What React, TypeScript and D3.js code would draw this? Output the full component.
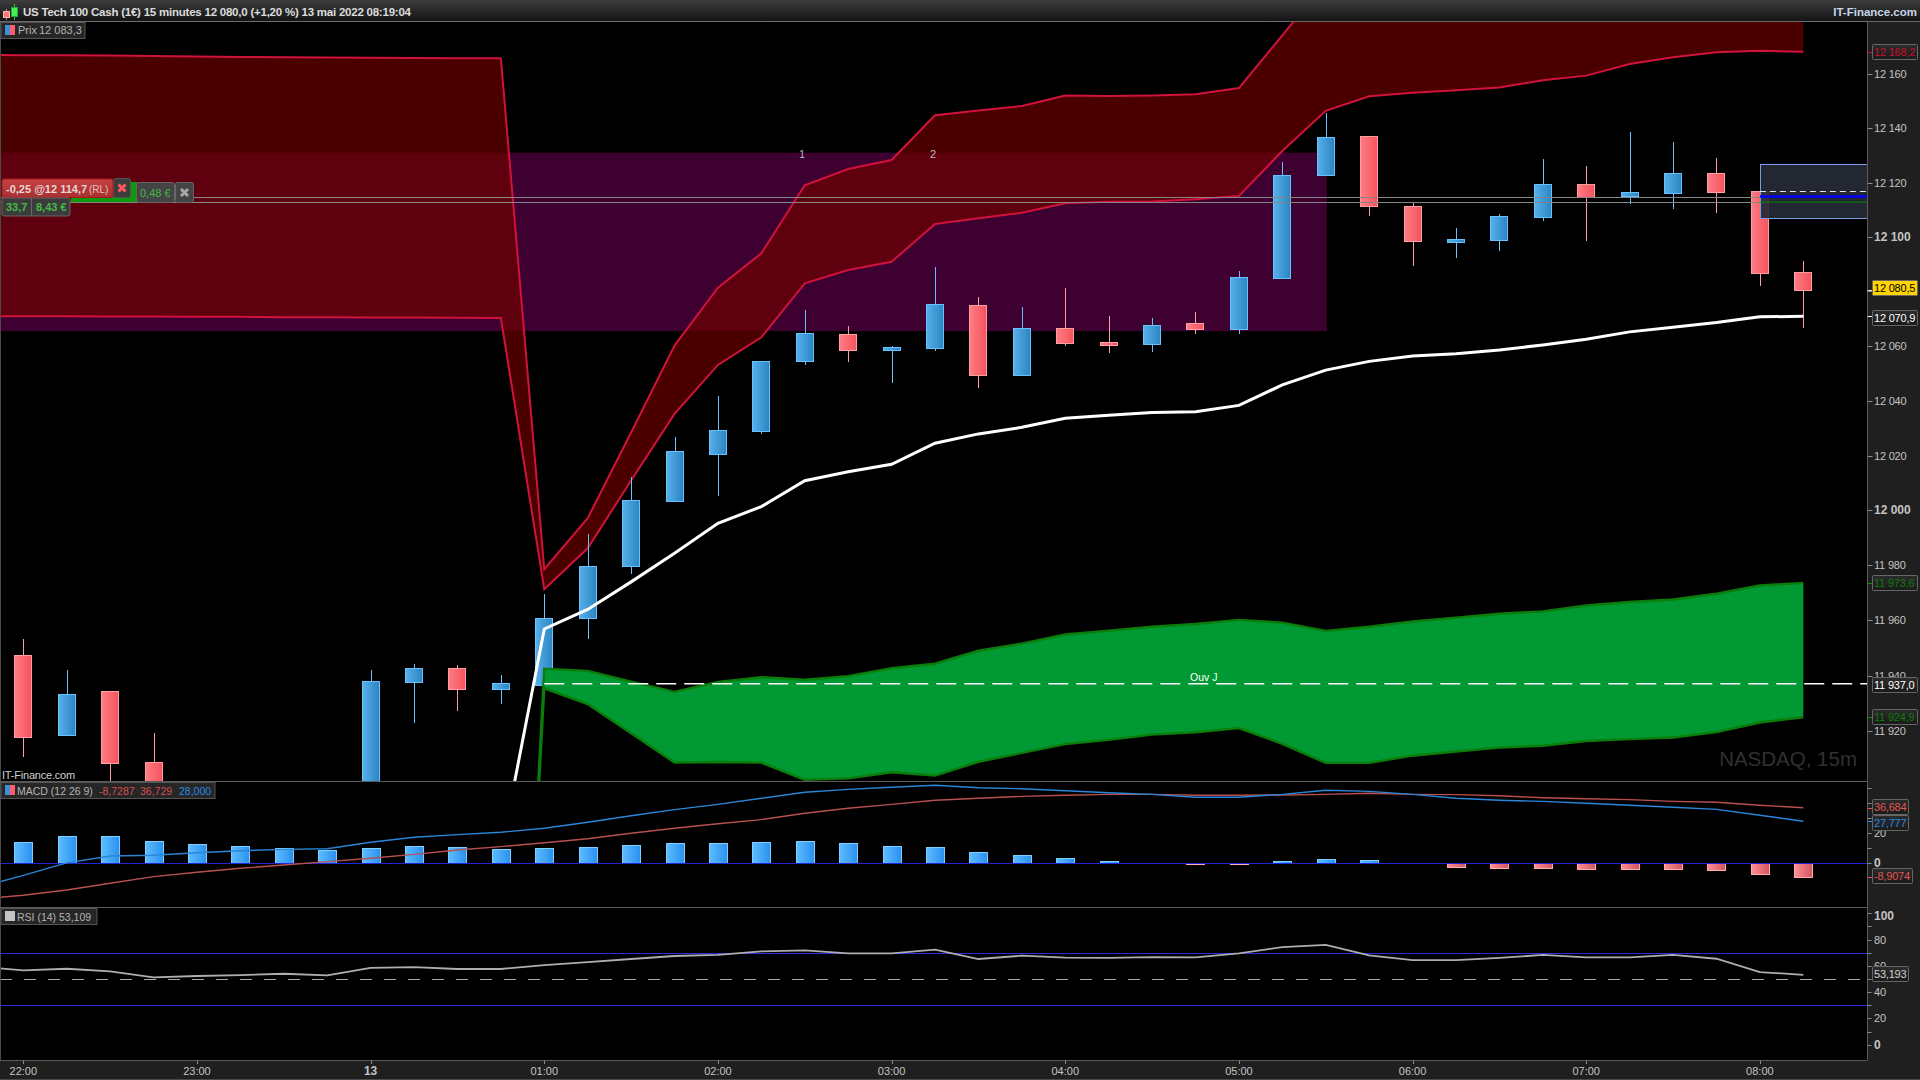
import * as d3 from 'd3';

const W = 1920;
const H = 1080;
const PLOT_RIGHT = 1867.5;
const FONT = '"Liberation Sans", Arial, sans-serif';

// index 0 = 22:00, one bar every 15 minutes. 4 to 7 sit below the visible range
const opens = [11947.5, 11918.3, 11934.3, 11908.6, null, null, null, null, 11892, 11937.5, 11942.7, 11935.3, 11936.7, 11960.8, 11979.6, 12003.6, 12020.7, 12029.1, 12054.7, 12064.4, 12058.7, 12059.4, 12075, 12049.6, 12066.5, 12061.4, 12060.6, 12068.3, 12066.4, 12085.1, 12122.6, 12137.1, 12111.3, 12098.2, 12099, 12107.5, 12119.4, 12115.2, 12116.3, 12123.5, 12116.9, 12087];
const highs = [11953.3, 11942.1, 11934.3, 11919.1, null, null, null, null, 11942.1, 11944.3, 11943.9, 11940.2, 11969.6, 11991.5, 12012, 12026.8, 12041.7, 12054.4, 12073.2, 12067.3, 12060, 12089, 12077.9, 12074.4, 12081.3, 12071, 12070.3, 12072.5, 12087.5, 12127.5, 12145.7, 12137.1, 12112.5, 12103.3, 12108.5, 12128.6, 12126.2, 12138.6, 12134.9, 12129, 12116.9, 12091.1];
const lows = [11910.7, 11918, 11898.6, 11892, null, null, null, null, 11890, 11923, 11927.3, 11929.7, 11936, 11953.4, 11976.7, 12002.9, 12005.3, 12028, 12053.1, 12054.3, 12046.6, 12058.3, 12044.8, 12049.1, 12060.1, 12057.6, 12058, 12064.5, 12064.5, 12084.7, 12122.4, 12107.8, 12089.5, 12092.4, 12094.7, 12106, 12098.6, 12112.3, 12110.4, 12108.9, 12082, 12066.7];
const closes = [11917.9, 11933.3, 11908.5, 11895, null, null, null, null, 11938, 11942.7, 11935.3, 11937.3, 11960.9, 11979.7, 12003.9, 12021.7, 12029.4, 12054.4, 12064.8, 12058.7, 12059.7, 12075.4, 12049.6, 12066.5, 12061.3, 12060.4, 12067.6, 12066.4, 12085.2, 12122.7, 12136.7, 12111.5, 12098.6, 12099.1, 12107.6, 12119.4, 12114.8, 12116.5, 12123.5, 12116.7, 12086.8, 12080.4];

// these four start one bar before 22:00, off the left edge
const redUpper = [12167.1, 12166.9, 12166.9, 12166.8, 12166.6, 12166.5, 12166.3, 12166.2, 12166.1, 12166, 12165.9, 12165.8, 12165.8, 11978.6, 11997.2, 12028.4, 12060.2, 12081.4, 12094, 12119, 12125, 12128.3, 12144.8, 12146.5, 12148.2, 12152.1, 12151.9, 12152.1, 12152.5, 12154.8, 12174.3, 12194, 12198, 12200, 12202, 12204, 12208, 12210, 12214, 12216, 12219, 12221, 12223];
const redLower = [12071, 12070.9, 12070.9, 12070.8, 12070.8, 12070.7, 12070.7, 12070.6, 12070.6, 12070.5, 12070.5, 12070.4, 12070.3, 11971.3, 11986.2, 12010.9, 12035.2, 12053.1, 12063.2, 12083, 12087.9, 12090.9, 12104.8, 12106.9, 12108.9, 12112.4, 12112.9, 12113, 12113.9, 12115.1, 12131.6, 12146.4, 12151.8, 12153.1, 12154, 12155, 12157.7, 12159.4, 12163.7, 12166.2, 12168, 12168.6, 12168.2];
const macdLine = [-15.8, -8, 0.3, 4.8, 5.3, 7, 8.3, 9.2, 9.6, 13.9, 17.2, 18.9, 20.5, 23.1, 27.1, 31.4, 35.4, 38.9, 42.9, 46.9, 48.8, 50.2, 51.5, 49.9, 49.2, 47.9, 46.6, 45.5, 43.6, 43.6, 45.5, 48.2, 47.5, 45.5, 42.9, 41.6, 40.9, 39.6, 38.3, 37, 35.6, 31.7, 27.8];
const macdSignal = [-23.5, -21.1, -17.6, -13.2, -8.8, -5.9, -3.3, -1.1, 1.1, 3.3, 5.9, 8.8, 11, 13.6, 16.2, 19.8, 23.1, 26.1, 28.8, 33, 36.3, 38.9, 41.6, 42.9, 44.2, 44.9, 45.5, 45.5, 44.9, 44.9, 45.1, 45.5, 46.2, 45.5, 45.3, 44.6, 43.3, 42.6, 42, 40.9, 40.3, 38.3, 36.7];
const rsiLine = [59.4, 56.5, 57.8, 55.8, 51.2, 52.3, 53, 54, 52.7, 58.4, 59.1, 57.6, 57.6, 60.6, 62.9, 65.2, 67.5, 68.3, 71, 71.7, 69.5, 69.5, 72.3, 65.2, 67.7, 66.2, 66, 66.7, 66.4, 69.5, 74.3, 75.9, 67.9, 64.4, 64.4, 66, 68.3, 66.4, 66.4, 68.3, 65.4, 55.3, 53.2];
const macdHist = [13.9, 17.8, 17.8, 14.5, 12.5, 11.2, 9.9, 8.6, 9.9, 11.2, 10.6, 9.2, 9.9, 10.6, 11.9, 13.2, 13.2, 13.9, 14.5, 13.2, 11.2, 10.6, 7.3, 5.3, 3.3, 1.3, 0, -0.7, -0.7, 1.3, 2.6, 2, 0, -2.2, -2.9, -2.9, -3.6, -3.6, -3.6, -4.2, -6.9, -8.9];

// these three start at bar 11 (00:45), everything before is far below the panel
const FROM_BAR = 11;
const whiteLine = [11876, 11956.9, 11964, 11974, 11984.4, 11995.3, 12001.4, 12010.8, 12014.1, 12016.8, 12024.5, 12027.9, 12030.3, 12033.6, 12034.7, 12035.7, 12036, 12038.3, 12045.8, 12051.2, 12054.4, 12056.4, 12057.2, 12058.6, 12060.4, 12062.5, 12065.2, 12066.9, 12068.6, 12070.7, 12070.9];
const greenUpper = [11650, 11942.5, 11941.7, 11937.8, 11934.1, 11937.7, 11939.4, 11938.5, 11939.8, 11942.7, 11944.3, 11949, 11951.6, 11954.9, 11956.3, 11957.7, 11958.7, 11960.2, 11959.2, 11956.2, 11957.7, 11959.6, 11961, 11962.4, 11963.3, 11965.4, 11966.7, 11967.6, 11969.7, 11972.7, 11973.6];
const greenLower = [11650, 11935.4, 11929.7, 11919.1, 11908.5, 11908.7, 11908.5, 11902.3, 11902.8, 11905, 11903.8, 11908.8, 11912, 11915.2, 11916.7, 11918.6, 11919.5, 11921, 11915.3, 11908.4, 11908.4, 11911, 11912.5, 11913.9, 11914.6, 11916.3, 11917, 11917.6, 11919.5, 11923, 11924.9];

const priceTicks = d3.range(11920, 12161, 20);
const hiddenPriceLabels = [12080]; // sits fully behind the yellow last price tag
const macdTicks = d3.range(0, 51, 10);
const macdLabels = [0, 20];
const rsiTicks = d3.range(0, 101, 10);
const rsiLabels = [0, 20, 40, 60, 80, 100];
const timeBars = [0, 4, 8, 12, 16, 20, 24, 28, 32, 36, 40];
const timeLabels = ['22:00', '23:00', '13', '01:00', '02:00', '03:00', '04:00', '05:00', '06:00', '07:00', '08:00'];

const ZONE_TOP = 12131;
const ZONE_BOTTOM = 12065.5;
const ZONE_END_BAR = 30;
const OPEN_DAY = 11937;
const POSITION_LEVELS = [12114.7, 12113];
const STOP_TOP = 12126.7;
const STOP_BOTTOM = 12106.8;
const LIMIT_DASH = 12116.7;
const BLUE_LEVEL = 12114.9;
const GREEN_LEVEL = 12112.8;

const x = d3.scaleLinear().domain([0, 41]).range([23.3, 1803.3]);
const y = d3.scaleLog().domain([12160, 11920]).range([74, 730.8]);
const macdY = d3.scaleLinear().domain([0, 20]).range([863.3, 833]);
const rsiY = d3.scaleLinear().domain([30, 70]).range([1005.3, 952.7]);

const locale = d3.formatLocale({ decimal: ',', thousands: ' ', grouping: [3], currency: ['', ' €'] });
const fmtTick = locale.format(',.0f');
const fmtPrice = locale.format(',.1f');

// one bar before 22:00 = array index 0
const lineFromPrev = (scale: (v: number) => number) =>
  d3.line<number>().x((_, i) => x(i - 1)).y((d) => scale(d));
const lineFromBar = d3.line<number>().x((_, i) => x(i + FROM_BAR)).y((d) => y(d));

const redArea = d3
  .area<number>()
  .x((_, i) => x(i - 1))
  .y0((_, i) => y(redLower[i]))
  .y1((d) => y(d));
const greenArea = d3
  .area<number>()
  .x((_, i) => x(i + FROM_BAR))
  .y0((_, i) => y(greenLower[i]))
  .y1((d) => y(d));

const snap = (v: number) => Math.round(v) + 0.5;

function Candle({ i }: { i: number }) {
  const o = opens[i];
  const c = closes[i];
  const h = highs[i];
  const l = lows[i];
  if (o === null || c === null || h === null || l === null) return null;
  const up = c >= o;
  const cx = snap(x(i));
  const top = snap(y(Math.max(o, c)));
  const bottom = snap(y(Math.min(o, c)));
  const edge = up ? '#66c2ff' : '#ff9da2';
  return (
    <g shapeRendering="crispEdges">
      <line x1={cx} x2={cx} y1={y(h)} y2={y(l)} stroke={edge} />
      <rect
        x={cx - 9}
        y={top}
        width={17}
        height={Math.max(bottom - top, 2)}
        fill={up ? 'url(#candleUp)' : 'url(#candleDown)'}
        stroke={edge}
      />
    </g>
  );
}

function PriceTag(props: { top: number; left?: number; right?: number; text: string; color: string; fill?: string }) {
  const { top, text, color, fill = 'url(#tagFill)', left = 1872.5, right = 1917.5 } = props;
  return (
    <g>
      <rect x={left} y={top} width={right - left} height={15} fill={fill} stroke="#666" rx={1} />
      <text x={left + 1.5} y={top + 11.5} fontSize={11} fill={color} letterSpacing={-0.2}>
        {text}
      </text>
    </g>
  );
}

function Cross({ cx, cy, color }: { cx: number; cy: number; color: string }) {
  return (
    <path
      d={`M${cx - 3.5},${cy - 3.5}L${cx + 3.5},${cy + 3.5}M${cx + 3.5},${cy - 3.5}L${cx - 3.5},${cy + 3.5}`}
      stroke={color}
      strokeWidth={3}
    />
  );
}

export default function App() {
  const zero = macdY(0);
  return (
    <svg
      width={W}
      height={H}
      viewBox={`0 0 ${W} ${H}`}
      style={{ position: 'fixed', left: 0, top: 0, display: 'block' }}
      fontFamily={FONT}
    >
      <defs>
        <linearGradient id="titleBar" x1="0" x2="0" y1="0" y2="1">
          <stop offset="0" stopColor="#3c3c3c" />
          <stop offset="1" stopColor="#141414" />
        </linearGradient>
        <linearGradient id="tagFill" x1="0" x2="0" y1="0" y2="1">
          <stop offset="0" stopColor="#2c2c2c" />
          <stop offset="1" stopColor="#1a1a1a" />
        </linearGradient>
        <linearGradient id="candleUp">
          <stop offset="0" stopColor="#56b0ea" />
          <stop offset="1" stopColor="#2c84c0" />
        </linearGradient>
        <linearGradient id="candleDown">
          <stop offset="0" stopColor="#ff7d84" />
          <stop offset="1" stopColor="#f4525c" />
        </linearGradient>
        <linearGradient id="histUp">
          <stop offset="0" stopColor="#5cbcff" />
          <stop offset="1" stopColor="#2b90ee" />
        </linearGradient>
        <linearGradient id="histDown">
          <stop offset="0" stopColor="#ff8e92" />
          <stop offset="1" stopColor="#cf5660" />
        </linearGradient>
        <linearGradient id="orderRed" x1="0" x2="0" y1="0" y2="1">
          <stop offset="0" stopColor="#c84040" />
          <stop offset="1" stopColor="#a83030" />
        </linearGradient>
        <clipPath id="pricePanel">
          <rect x={0} y={22} width={PLOT_RIGHT} height={759} />
        </clipPath>
      </defs>

      <rect width={W} height={H} fill="#000" />

      {/* price panel */}
      <g clipPath="url(#pricePanel)">
        <rect
          x={0}
          y={y(ZONE_TOP)}
          width={x(ZONE_END_BAR) + 1}
          height={y(ZONE_BOTTOM) - y(ZONE_TOP)}
          fill="#3d0030"
        />
        <path d={redArea(redUpper) ?? ''} fill="rgb(112,0,0)" fillOpacity={0.67} />
        <path d={lineFromPrev(y)(redUpper) ?? ''} fill="none" stroke="#d0123c" strokeWidth={2} />
        <path d={lineFromPrev(y)(redLower) ?? ''} fill="none" stroke="#d0123c" strokeWidth={2} />

        {opens.map((_, i) => (
          <Candle key={i} i={i} />
        ))}

        <path d={greenArea(greenUpper) ?? ''} fill="#009933" />
        <path d={lineFromBar(greenUpper) ?? ''} fill="none" stroke="#0a7d0a" strokeWidth={2.4} />
        <path d={lineFromBar(greenLower) ?? ''} fill="none" stroke="#0a7d0a" strokeWidth={2.4} />
        <path d={lineFromBar(whiteLine) ?? ''} fill="none" stroke="#fff" strokeWidth={3} />

        {/* stop box at the right */}
        <rect
          x={snap(x(40))}
          y={snap(y(STOP_TOP))}
          width={PLOT_RIGHT - snap(x(40))}
          height={y(STOP_BOTTOM) - y(STOP_TOP)}
          fill="#262a36"
          fillOpacity={0.92}
          stroke="#7a9be6"
          shapeRendering="crispEdges"
        />
        <line x1={x(40)} x2={PLOT_RIGHT} y1={y(LIMIT_DASH)} y2={y(LIMIT_DASH)} stroke="#e8e8ff" strokeDasharray="6 4" />
        <line x1={x(40)} x2={PLOT_RIGHT} y1={y(BLUE_LEVEL)} y2={y(BLUE_LEVEL)} stroke="#0000ff" strokeWidth={2.5} />
        <line x1={x(40)} x2={PLOT_RIGHT} y1={y(GREEN_LEVEL)} y2={y(GREEN_LEVEL)} stroke="#0a8a0a" strokeWidth={1} />

        {POSITION_LEVELS.map((p) => (
          <line key={p} x1={0} x2={x(40)} y1={snap(y(p))} y2={snap(y(p))} stroke="#858585" shapeRendering="crispEdges" />
        ))}
      </g>

      <line
        x1={x(12)}
        x2={PLOT_RIGHT + 1}
        y1={y(OPEN_DAY)}
        y2={y(OPEN_DAY)}
        stroke="#fff"
        strokeWidth={1.5}
        strokeDasharray="20 8"
      />
      <text x={1190} y={680.5} fontSize={10.5} fill="#fff">Ouv J</text>
      <text x={802} y={158} fontSize={11} fill="#b8b8b8" textAnchor="middle">1</text>
      <text x={933} y={158} fontSize={11} fill="#b8b8b8" textAnchor="middle">2</text>
      <text x={1857} y={766} fontSize={20.5} fill="#303030" textAnchor="end">NASDAQ, 15m</text>
      <text x={2} y={779} fontSize={11} fill="#cfcfcf" letterSpacing={-0.2}>IT-Finance.com</text>

      {/* MACD panel */}
      {macdHist.map((v, i) => {
        if (v === 0) return null;
        const top = snap(macdY(Math.max(v, 0)));
        const bottom = snap(macdY(Math.min(v, 0)));
        return (
          <rect
            key={i}
            x={snap(x(i)) - 9}
            y={top}
            width={18}
            height={bottom - top}
            fill={v > 0 ? 'url(#histUp)' : 'url(#histDown)'}
            stroke={v > 0 ? '#7cd0ff' : '#ffabab'}
            shapeRendering="crispEdges"
          />
        );
      })}
      <line x1={0} x2={PLOT_RIGHT} y1={snap(zero)} y2={snap(zero)} stroke="#2323d8" shapeRendering="crispEdges" />
      <path d={lineFromPrev(macdY)(macdSignal) ?? ''} fill="none" stroke="#b85050" strokeWidth={1.4} />
      <path d={lineFromPrev(macdY)(macdLine) ?? ''} fill="none" stroke="#2a86d8" strokeWidth={1.4} />

      {/* RSI panel */}
      {[70, 30].map((v) => (
        <line key={v} x1={0} x2={PLOT_RIGHT} y1={snap(rsiY(v))} y2={snap(rsiY(v))} stroke="#2a2ae0" shapeRendering="crispEdges" />
      ))}
      <line x1={0} x2={PLOT_RIGHT} y1={snap(rsiY(50))} y2={snap(rsiY(50))} stroke="#a8a8a8" strokeDasharray="12 12" shapeRendering="crispEdges" />
      <path d={lineFromPrev(rsiY)(rsiLine) ?? ''} fill="none" stroke="#aeaeae" strokeWidth={1.8} />

      {/* right and bottom gutters */}
      <rect x={PLOT_RIGHT} y={22} width={W - PLOT_RIGHT} height={H - 22} fill="#1f1f1f" />
      <rect x={0} y={1060.5} width={W} height={19.5} fill="#1f1f1f" />
      <line x1={PLOT_RIGHT} x2={PLOT_RIGHT} y1={22} y2={1060} stroke="#5a5a5a" />
      <line x1={0.5} x2={0.5} y1={22} y2={1060} stroke="#4a4a4a" />
      {[781.5, 907.5, 1060.5].map((v) => (
        <line key={v} x1={0} x2={PLOT_RIGHT} y1={v} y2={v} stroke="#5a5a5a" />
      ))}
      <line x1={0} x2={W} y1={1079.5} y2={1079.5} stroke="#4a4a4a" />

      {priceTicks.map((p) => (
        <g key={p} fill="#c4c4c4">
          <line x1={PLOT_RIGHT} x2={PLOT_RIGHT + 5} y1={snap(y(p))} y2={snap(y(p))} stroke="#8a8a8a" />
          {!hiddenPriceLabels.includes(p) && (
            <text
              x={1874}
              y={y(p) + 4}
              fontSize={p % 100 === 0 ? 12 : 11}
              fontWeight={p % 100 === 0 ? 700 : 400}
              letterSpacing={p % 100 === 0 ? 0 : -0.2}
            >
              {fmtTick(p)}
            </text>
          )}
        </g>
      ))}
      {macdTicks.map((v) => (
        <line key={v} x1={PLOT_RIGHT} x2={PLOT_RIGHT + 4} y1={snap(macdY(v))} y2={snap(macdY(v))} stroke="#8a8a8a" />
      ))}
      {macdLabels.map((v) => (
        <text key={v} x={1874} y={macdY(v) + 4} fontSize={v === 0 ? 12 : 11} fontWeight={v === 0 ? 700 : 400} fill="#c4c4c4">
          {v}
        </text>
      ))}
      {rsiTicks.map((v) => (
        <line key={v} x1={PLOT_RIGHT} x2={PLOT_RIGHT + 4} y1={snap(rsiY(v))} y2={snap(rsiY(v))} stroke="#8a8a8a" />
      ))}
      {rsiLabels.map((v) => {
        const bold = v === 0 || v === 100;
        return (
          <text key={v} x={1874} y={rsiY(v) + (v === 100 ? 7 : 4)} fontSize={bold ? 12 : 11} fontWeight={bold ? 700 : 400} fill="#c4c4c4">
            {v}
          </text>
        );
      })}

      {timeBars.map((b, i) => (
        <g key={b}>
          <line x1={snap(x(b))} x2={snap(x(b))} y1={1060.5} y2={1064} stroke="#8a8a8a" />
          <text
            x={x(b)}
            y={1075}
            textAnchor="middle"
            fontSize={timeLabels[i] === '13' ? 12 : 11}
            fontWeight={timeLabels[i] === '13' ? 700 : 400}
            fill="#c4c4c4"
          >
            {timeLabels[i]}
          </text>
        </g>
      ))}

      {/* value tags */}
      <line x1={PLOT_RIGHT} x2={PLOT_RIGHT + 5} y1={snap(y(12168.2))} y2={snap(y(12168.2))} stroke="#d0123c" />
      <PriceTag top={44.5} text={fmtPrice(12168.2)} color="#c8102e" />
      <line x1={PLOT_RIGHT} x2={PLOT_RIGHT + 5} y1={snap(y(12080.5))} y2={snap(y(12080.5))} stroke="#ddd" />
      <PriceTag top={280.5} text={fmtPrice(12080.5)} color="#000" fill="#ffd400" />
      <line x1={PLOT_RIGHT} x2={PLOT_RIGHT + 5} y1={snap(y(12070.9))} y2={snap(y(12070.9))} stroke="#fff" />
      <PriceTag top={310.5} text={fmtPrice(12070.9)} color="#fff" />
      <line x1={PLOT_RIGHT} x2={PLOT_RIGHT + 5} y1={snap(y(11973.6))} y2={snap(y(11973.6))} stroke="#0a8a0a" />
      <PriceTag top={575.5} text={fmtPrice(11973.6)} color="#0b7d0b" />
      <PriceTag top={677.5} text={fmtPrice(11937)} color="#fff" />
      <line x1={PLOT_RIGHT} x2={PLOT_RIGHT + 5} y1={snap(y(11924.9))} y2={snap(y(11924.9))} stroke="#0a8a0a" />
      <PriceTag top={709.5} text={fmtPrice(11924.9)} color="#0b7d0b" />
      <line x1={PLOT_RIGHT} x2={PLOT_RIGHT + 5} y1={snap(macdY(36.684))} y2={snap(macdY(36.684))} stroke="#e05050" />
      <PriceTag top={799.5} right={1908.5} text="36,684" color="#e05656" />
      <line x1={PLOT_RIGHT} x2={PLOT_RIGHT + 5} y1={snap(macdY(27.777))} y2={snap(macdY(27.777))} stroke="#2a8ae0" />
      <PriceTag top={815.5} right={1908.5} text="27,777" color="#2a8ae0" />
      <line x1={PLOT_RIGHT} x2={PLOT_RIGHT + 5} y1={snap(macdY(-8.9074))} y2={snap(macdY(-8.9074))} stroke="#e05050" />
      <PriceTag top={868.5} right={1912.5} text="-8,9074" color="#e05656" />
      <PriceTag top={966.5} right={1908.5} text="53,193" color="#cfcfcf" />

      {/* title bar */}
      <rect width={W} height={21} fill="url(#titleBar)" />
      <line x1={0} x2={W} y1={21.5} y2={21.5} stroke="#6a6a6a" />
      <g shapeRendering="crispEdges">
        <line x1={6.5} x2={6.5} y1={9} y2={20} stroke="#ff6a6a" />
        <rect x={3.5} y={11.5} width={6} height={6} fill="#ff7a7a" stroke="#ffb0b0" />
        <line x1={14.5} x2={14.5} y1={4} y2={20} stroke="#22cc33" />
        <rect x={11.5} y={7.5} width={6} height={9} fill="#44ee55" stroke="#22aa33" />
      </g>
      <text x={23} y={15.5} fontSize={11.5} fontWeight={700} fill="#dcdcdc" textLength={388}>
        US Tech 100 Cash (1€) 15 minutes 12 080,0 (+1,20 %) 13 mai 2022 08:19:04
      </text>
      <text x={1917} y={15.5} fontSize={11.5} fontWeight={700} fill="#c6d6ea" textAnchor="end">
        IT-Finance.com
      </text>

      {/* legends */}
      <rect x={1} y={22.5} width={84} height={16} fill="#262626" stroke="#555" />
      <rect x={5} y={25} width={5} height={10} fill="#3d8fd6" />
      <rect x={10} y={25} width={5} height={10} fill="#ff5e6e" />
      <text x={18} y={34} fontSize={11} fill="#b4b4b4">Prix</text>
      <text x={39} y={34} fontSize={11} fill="#b4b4b4">12 083,3</text>

      <rect x={1} y={782.5} width={214} height={16} fill="#262626" stroke="#555" />
      <rect x={5} y={785} width={5} height={10} fill="#3d8fd6" />
      <rect x={10} y={785} width={5} height={10} fill="#ff5e6e" />
      <text x={17} y={794.5} fontSize={10.5} fill="#b4b4b4">MACD (12 26 9)</text>
      <text x={99} y={794.5} fontSize={10.5} fill="#d65050">-8,7287</text>
      <text x={140} y={794.5} fontSize={10.5} fill="#d65050">36,729</text>
      <text x={179} y={794.5} fontSize={10.5} fill="#2a8ae0">28,000</text>

      <rect x={1} y={908.5} width={96} height={16} fill="#262626" stroke="#555" />
      <rect x={5} y={911} width={10} height={10} fill="#c4c4c4" />
      <text x={17} y={920.5} fontSize={10.5} fill="#b4b4b4">RSI (14) 53,109</text>

      {/* open position widgets */}
      <rect x={71} y={197} width={65} height={5} fill="#0f990f" />
      <rect x={130} y={182} width={7} height={20} fill="#0f990f" />
      <rect x={136.5} y={182.5} width={38} height={20} fill="#444" stroke="#666" rx={2} />
      <text x={140} y={197} fontSize={11} fill="#44bb44">0,48 €</text>
      <rect x={175.5} y={182.5} width={18} height={20} fill="#444" stroke="#666" rx={2} />
      <Cross cx={184.5} cy={192.5} color="#a8a8a8" />
      <rect x={113.5} y={178.5} width={17} height={19} fill="#3c3c3c" stroke="#555" rx={2} />
      <Cross cx={122} cy={188} color="#ff5a5a" />
      <rect x={2} y={179} width={111} height={18.5} fill="url(#orderRed)" stroke="#a81818" rx={2} />
      <text x={6} y={192.5} fontSize={11} fontWeight={700} fill="#e6d6d6">-0,25 @12 114,7</text>
      <text x={89} y={192.5} fontSize={10} fill="#e0c0c0">(RL)</text>
      <rect x={2} y={198} width={68} height={18} fill="#3c3c3c" stroke="#666" rx={2} />
      <line x1={31.5} x2={31.5} y1={198} y2={216} stroke="#666" />
      <text x={6} y={211} fontSize={11} fontWeight={700} fill="#44bb44">33,7</text>
      <text x={36} y={211} fontSize={11} fontWeight={700} fill="#44bb44">8,43 €</text>
    </svg>
  );
}
